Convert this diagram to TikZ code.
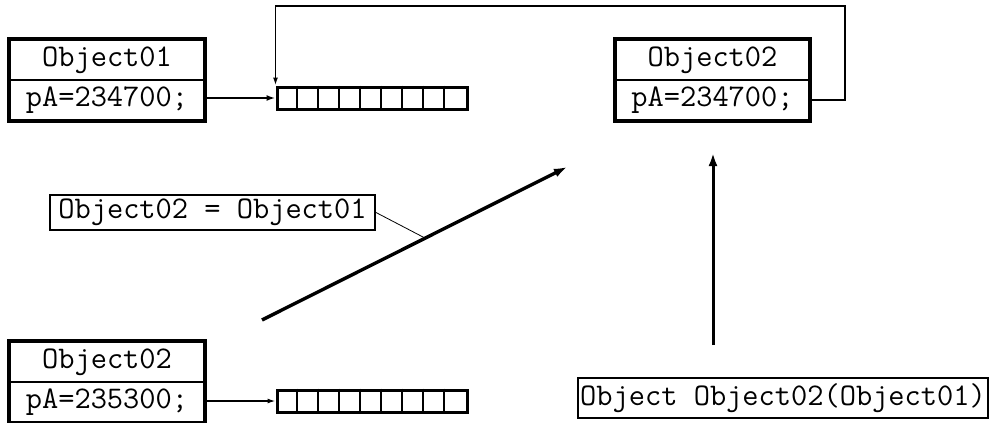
\documentclass[tikz,border=0pt]{standalone}
\usepackage{fontspec}
\usetikzlibrary{arrows.meta,calc}
\tikzset{
  cell/.style={draw, line width=1.6pt, minimum width=194pt, minimum height=40pt,
    inner sep=0pt, font=\fontsize{31.5}{36}\selectfont\ttfamily},
  outerframe/.style={line width=4pt},
  arraybox/.style={draw, line width=3pt, minimum width=190pt, minimum height=22pt, inner sep=0pt},
  labelbox/.style={draw, line width=2pt, inner sep=0pt, font=\fontsize{31.5}{36}\selectfont\ttfamily},
  ptr/.style={line width=2.2pt, -{Latex[length=9pt,width=6pt]}},
  bigarrow/.style={line width=3.4pt, -{Latex[length=13pt,width=9pt]}},
}
\begin{document}
\begin{tikzpicture}[x=1pt,y=-1pt]
\useasboundingbox (0,0) rectangle (991,423);

% first object and its buffer
\node[cell] (o1name) at (107,60) {Object01};
\node[cell] (o1ptr) at (107,100) {pA=234700;};
\draw[outerframe] (o1name.north west) rectangle (o1ptr.south east);
\node[arraybox] (arr1) at (372,98) {};
\foreach \i in {1,...,8}
  \draw[line width=2.2pt] ($(arr1.north west)+(\i*190/9,0)$) -- ($(arr1.south west)+(\i*190/9,0)$);

% copied object pointing to the same buffer
\node[cell] (o2name) at (712.5,60) {Object02};
\node[cell] (o2ptr) at (712.5,100) {pA=234700;};
\draw[outerframe] (o2name.north west) rectangle (o2ptr.south east);

% second object with its own buffer
\node[cell] (o3name) at (107,362) {Object02};
\node[cell] (o3ptr) at (107,402) {pA=235300;};
\draw[outerframe] (o3name.north west) rectangle (o3ptr.south east);
\node[arraybox] (arr2) at (372,401) {};
\foreach \i in {1,...,8}
  \draw[line width=2.2pt] ($(arr2.north west)+(\i*190/9,0)$) -- ($(arr2.south west)+(\i*190/9,0)$);

% pointers
\draw[ptr] (o1ptr.east |- arr1.west) -- (arr1.west);
\draw[line width=1.4pt, -{Latex[length=8pt,width=5pt]}] (o3ptr.east |- arr2.west) -- (arr2.west);
\coordinate (loopR) at (845,6);
\draw[line width=1.6pt, -{Latex[length=8pt,width=5pt]}] (o2ptr.east) -| (loopR) -| (arr1.north west);

% assignment
\coordinate (dstart) at (262,320);
\coordinate (dend) at (567,167);
\draw[bigarrow] (dstart) -- (dend);
\path (dstart) -- (dend) coordinate[pos=0.535] (dmid);
\node[labelbox, minimum width=325pt, minimum height=35pt] (assign) at (212.5,212.5) {Object02 = Object01};
\draw[line width=0.8pt] (assign.east) -- (dmid);

% copy constructor
\node[labelbox, minimum width=410pt, minimum height=40pt] (ctor) at (783,398) {Object Object02(Object01)};
\coordinate (vstart) at (713,345);
\coordinate (vend) at (713,153);
\draw[bigarrow, line width=3pt] (vstart) -- (vend);
\end{tikzpicture}
\end{document}
